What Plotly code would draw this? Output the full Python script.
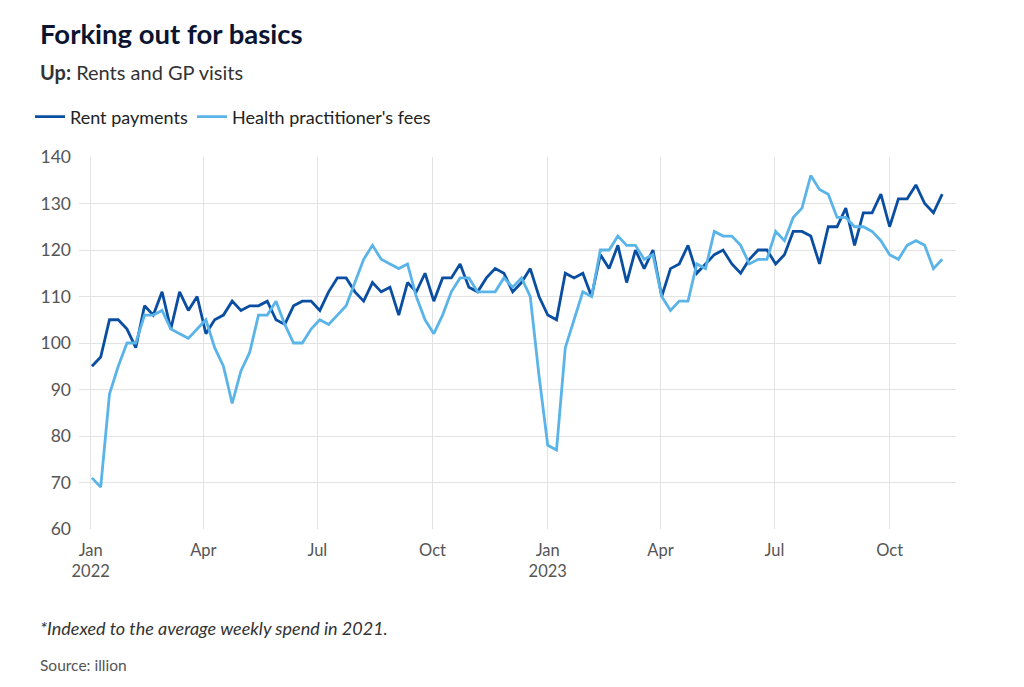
import pandas as pd
import plotly.graph_objects as go

weeks = pd.date_range("2022-01-02", periods=98, freq="7D")

rent_payments = [
    95, 97, 105, 105, 103, 99, 108, 106, 111, 103, 111, 107, 110, 102, 105, 106, 109, 107, 108, 108,
    109, 105, 104, 108, 109, 109, 107, 111, 114, 114, 111, 109, 113, 111, 112, 106, 113, 111, 115,
    109, 114, 114, 117, 112, 111, 114, 116, 115, 111, 113, 116, 110, 106, 105, 115, 114, 115, 110,
    119, 116, 121, 113, 120, 116, 120, 110, 116, 117, 121, 115, 117, 119, 120, 117, 115, 118, 120, 120,
    117, 119, 124, 124, 123, 117, 125, 125, 129, 121, 128, 128, 132, 125, 131, 131, 134, 130, 128, 132,
]

health_fees = [
    71, 69, 89, 95, 100, 100, 106, 106, 107, 103, 102, 101, 103, 105, 99, 95, 87, 94, 98, 106,
    106, 109, 104, 100, 100, 103, 105, 104, 106, 108, 113, 118, 121, 118, 117, 116, 117, 110, 105,
    102, 106, 111, 114, 114, 111, 111, 111, 114, 112, 114, 110, 93, 78, 77, 99, 105, 111, 110,
    120, 120, 123, 121, 121, 118, 119, 110, 107, 109, 109, 117, 116, 124, 123, 123, 121, 117, 118, 118,
    124, 122, 127, 129, 136, 133, 132, 127, 127, 125, 125, 124, 122, 119, 118, 121, 122, 121, 116, 118,
]

tick_dates = ["2022-01-01", "2022-04-01", "2022-07-01", "2022-10-01",
              "2023-01-01", "2023-04-01", "2023-07-01", "2023-10-01"]
tick_labels = ["Jan<br>2022", "Apr", "Jul", "Oct", "Jan<br>2023", "Apr", "Jul", "Oct"]
y_ticks = [60, 70, 80, 90, 100, 110, 120, 130, 140]

FONT = "Lato"
OFF = 8                      # page body margin
W, H = 1024 - OFF, 687 - OFF
L, R, T, B = 79, 956, 157, 529   # plot area in page pixels
pw, ph = R - L, B - T

def px(x):
    return (x - L) / pw

def py(y):
    return (B - y) / ph

fig = go.Figure()
fig.add_trace(go.Scatter(x=weeks, y=rent_payments, mode="lines", name="Rent payments",
                         line=dict(color="#0a4ea2", width=2.8), legend="legend"))
fig.add_trace(go.Scatter(x=weeks, y=health_fees, mode="lines", name="Health practitioner's fees",
                         line=dict(color="#5ab4e8", width=2.8), legend="legend2"))

leg_common = dict(orientation="h", yanchor="middle", xanchor="left",
                  font=dict(family=FONT, size=18, color="#222222"),
                  bgcolor="rgba(0,0,0,0)", borderwidth=0)

fig.update_layout(
    width=W, height=H,
    margin=dict(l=L - OFF, r=W - (R - OFF), t=T - OFF, b=H - (B - OFF)),
    paper_bgcolor="white", plot_bgcolor="white",
    font=dict(family=FONT, size=16, color="#555555"),
    showlegend=True,
    legend=dict(x=px(30), y=py(117), **leg_common),
    legend2=dict(x=px(192), y=py(117), **leg_common),
    xaxis=dict(type="date", range=["2021-12-22 16:00", "2023-11-23"],
               tickvals=tick_dates, ticktext=tick_labels,
               showgrid=True, gridcolor="#e3e3e3", gridwidth=1,
               ticks="", showline=False, zeroline=False,
               ticklabelstandoff=9,
               tickfont=dict(family=FONT, size=16.5, color="#555555")),
    yaxis=dict(range=[60, 140], tickvals=y_ticks,
               showgrid=True, gridcolor="#e3e3e3", gridwidth=1,
               ticks="", showline=False, zeroline=False,
               ticklabelstandoff=7,
               tickfont=dict(family=FONT, size=17.5, color="#555555")),
    hovermode="x unified",
)

annotations = [
    dict(text="<b>Forking out for basics</b>", x=px(38), y=py(33),
         font=dict(family=FONT, size=27.5, color="#0b1430")),
    dict(text="<b>Up:</b> Rents and GP visits", x=px(38), y=py(72),
         font=dict(family=FONT, size=20, color="#333333")),
    dict(text="<i>*Indexed to the average weekly spend in 2021.</i>", x=px(38), y=py(628),
         font=dict(family=FONT, size=18, color="#333333")),
    dict(text="Source: illion", x=px(38), y=py(665),
         font=dict(family=FONT, size=15.5, color="#555555")),
]
for a in annotations:
    fig.add_annotation(xref="paper", yref="paper", xanchor="left", yanchor="middle",
                       showarrow=False, align="left", **a)

fig.write_html("out.html")
